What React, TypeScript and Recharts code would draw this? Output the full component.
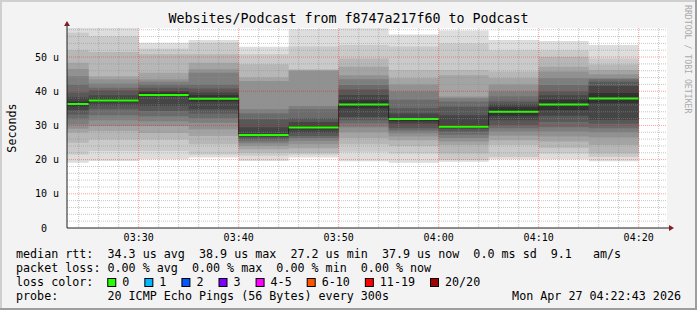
import React from 'react'
import { ComposedChart, Area, XAxis, YAxis, CartesianGrid } from 'recharts'

const W = 697
const H = 310
const MONO = '"DejaVu Sans Mono", monospace'

// graph window and the end of every 300s step
const graphStart = '03:22:50'
const graphEnd = '04:22:50'
const stepEnds = ['03:25', '03:30', '03:35', '03:40', '03:45', '03:50', '03:55', '04:00', '04:05', '04:10', '04:15', '04:20']

// sorted rtt (us) of the 20 pings in each step, ping01 = fastest
const ping01 = [19.1, 19.6, 20.1, 20.6, 19.6, 20.6, 19.5, 19.1, 19.4, 20.1, 20.1, 19.5]
const ping02 = [21.5, 22.5, 22.5, 21.5, 21.1, 21.5, 22.3, 21.8, 19.9, 20.8, 21.8, 20.8]
const ping03 = [24.9, 25.9, 25.9, 24.5, 22.0, 22.0, 24.5, 24.0, 21.8, 24.3, 23.5, 21.8]
const ping04 = [27.9, 28.4, 27.8, 26.9, 23.0, 23.3, 26.3, 25.7, 24.3, 25.7, 25.3, 24.3]
const ping05 = [29.0, 29.8, 29.8, 28.8, 24.0, 24.5, 28.0, 26.8, 25.3, 27.0, 26.8, 26.5]
const ping06 = [30.3, 31.5, 31.2, 30.8, 24.8, 25.5, 29.5, 27.7, 26.3, 28.2, 28.2, 28.0]
const ping07 = [31.8, 33.0, 32.7, 32.0, 25.4, 26.3, 30.6, 28.5, 27.3, 29.2, 29.5, 29.2]
const ping08 = [33.2, 34.7, 34.2, 33.5, 26.0, 26.9, 31.5, 29.2, 28.2, 30.1, 31.1, 30.5]
const ping09 = [34.5, 35.8, 35.7, 34.7, 26.6, 27.8, 32.5, 30.5, 29.0, 31.5, 32.8, 31.6]
const ping10 = [35.6, 36.8, 38.5, 37.0, 27.0, 28.8, 35.0, 31.2, 29.3, 32.8, 34.5, 36.5]
const ping11 = [37.0, 37.8, 39.6, 38.8, 27.6, 29.8, 37.4, 32.1, 29.9, 35.3, 37.5, 39.5]
const ping12 = [38.3, 38.8, 40.1, 39.6, 29.5, 31.0, 38.9, 33.5, 33.0, 36.2, 38.8, 41.5]
const ping13 = [39.6, 40.2, 41.0, 40.8, 31.8, 32.2, 40.5, 35.0, 35.5, 37.0, 39.9, 42.8]
const ping14 = [42.0, 41.0, 42.0, 42.0, 33.5, 34.7, 41.8, 37.5, 37.0, 38.5, 41.8, 43.5]
const ping15 = [44.4, 42.3, 42.8, 45.4, 34.7, 35.7, 43.5, 39.9, 38.0, 39.9, 43.8, 43.8]
const ping16 = [46.5, 43.5, 43.5, 46.4, 43.0, 46.0, 44.7, 42.0, 38.5, 42.0, 45.8, 45.0]
const ping17 = [48.3, 44.4, 45.4, 48.3, 44.0, 46.2, 47.2, 43.8, 44.7, 43.8, 47.2, 46.2]
const ping18 = [52.0, 51.5, 50.8, 50.8, 47.9, 46.4, 49.6, 46.2, 46.2, 45.8, 50.0, 47.8]
const ping19 = [57.1, 56.1, 52.4, 54.2, 50.8, 53.1, 53.5, 53.1, 54.0, 52.0, 52.0, 49.6]
const ping20 = [58.5, 58.5, 54.2, 55.0, 53.0, 58.1, 58.4, 56.6, 57.8, 55.0, 54.7, 53.5]
const medianRtt = [36.3, 37.3, 38.9, 37.8, 27.2, 29.4, 36.1, 31.9, 29.6, 34.0, 36.1, 37.9]

const xTicks = ['03:30', '03:40', '03:50', '04:00', '04:10', '04:20']
const yTicks = [0, 10, 20, 30, 40, 50]
const yMax = 58.5

// smokeping grey per ping pair, outermost first
const smokeColors = ['#dddddd', '#cacaca', '#b7b7b7', '#a4a4a4', '#919191', '#7e7e7e', '#6b6b6b', '#585858', '#454545', '#323232']

const lossLabels = ['0', '1', '2', '3', '4-5', '6-10', '11-19', '20/20']
const lossColors = ['#26ff00', '#00b8ff', '#0059ff', '#7e00ff', '#ff00ff', '#ff5500', '#ff0000', '#a10000']

const rttLine = 'median rtt:  34.3 us avg  38.9 us max  27.2 us min  37.9 us now  0.0 ms sd  9.1   am/s'
const lossLine = 'packet loss: 0.00 % avg  0.00 % max  0.00 % min  0.00 % now'
const probeLine = 'probe:       20 ICMP Echo Pings (56 Bytes) every 300s'
const stamp = 'Mon Apr 27 04:22:43 2026'
const title = 'Websites/Podcast from f8747a217f60 to Podcast'

const toMin = (s: string) => {
    const [h, m, sec] = s.split(':').map(Number)
    return (h - 3) * 60 + m + (sec || 0) / 60
}
const fmtMin = (v: number) => {
    const h = 3 + Math.floor(v / 60)
    const m = Math.round(v % 60)
    return `${String(h).padStart(2, '0')}:${String(m).padStart(2, '0')}`
}

const pings = [ping01, ping02, ping03, ping04, ping05, ping06, ping07, ping08, ping09, ping10,
    ping11, ping12, ping13, ping14, ping15, ping16, ping17, ping18, ping19, ping20]

// stepBefore: each row closes the step that ends at its time
const rows = [graphStart, ...stepEnds].map((s, k) => {
    const col = Math.max(0, k - 1)
    return { t: toMin(s), p: pings.map(a => a[col]), median: medianRtt[col] }
})

const x0 = toMin(graphStart)
const x1 = toMin(graphEnd)
const swidth = yMax / 200

const minorX: number[] = []
const majorX: number[] = []
for (let m = Math.ceil(x0 / 2) * 2; m <= x1; m += 2) (m % 10 === 0 ? majorX : minorX).push(m)
const minorY: number[] = []
const majorY: number[] = []
for (let v = 2; v < yMax; v += 2) (v % 10 === 0 ? majorY : minorY).push(v)

const XTick = (props: any) => (
    <text x={props.x} y={props.y} dy={13} textAnchor="middle" fontFamily={MONO} fontSize={10} fill="#000">
        {fmtMin(props.payload.value)}
    </text>
)
const YTick = (props: any) => {
    const v = props.payload.value
    return (
        <text x={props.x - (v === 0 ? 20 : 8)} y={props.y} dy={3.5} textAnchor="end" fontFamily={MONO} fontSize={10} fill="#000">
            {v === 0 ? '0' : `${v} u`}
        </text>
    )
}

const CH = 7.02
const legendItems = (() => {
    let x = 16 + 13 * CH
    return lossLabels.map((label, i) => {
        const item = { x, label, color: lossColors[i] }
        x += 15 + label.length * CH + 15.06
        return item
    })
})()

export default function App() {
    return (
        <div style={{ position: 'absolute', left: 0, top: 0, width: W, height: H, background: '#f3f3f3' }}>
            <div style={{ position: 'absolute', left: 67, top: 28, width: 600, height: 200, background: '#ffffff' }} />
            <div style={{ position: 'absolute', left: 0, top: 0 }}>
                <ComposedChart width={W} height={H} data={rows} margin={{ top: 28, right: 30, bottom: 0, left: 0 }}>
                    <XAxis
                        type="number"
                        dataKey="t"
                        domain={[x0, x1]}
                        allowDataOverflow
                        ticks={xTicks.map(toMin)}
                        interval={0}
                        height={82}
                        tickSize={0}
                        tickMargin={0}
                        tickLine={false}
                        axisLine={{ stroke: '#1f1f1f' }}
                        tick={XTick}
                    />
                    <YAxis
                        type="number"
                        domain={[0, yMax]}
                        allowDataOverflow
                        ticks={yTicks}
                        interval={0}
                        width={67}
                        tickSize={0}
                        tickMargin={0}
                        tickLine={false}
                        axisLine={{ stroke: '#1f1f1f' }}
                        tick={YTick}
                    />
                    {smokeColors.map((c, i) => (
                        <Area
                            key={i}
                            type="stepBefore"
                            dataKey={(r: any) => [r.p[i], r.p[19 - i]]}
                            fill={c}
                            fillOpacity={1}
                            stroke="none"
                            dot={false}
                            activeDot={false}
                            isAnimationActive={false}
                        />
                    ))}
                    <Area type="stepBefore" dataKey="median" fill="none" stroke="#202020" strokeWidth={1} dot={false} activeDot={false} isAnimationActive={false} />
                    <Area
                        type="stepBefore"
                        dataKey={(r: any) => [r.median - swidth, r.median + swidth]}
                        fill={lossColors[0]}
                        fillOpacity={1}
                        stroke="none"
                        dot={false}
                        activeDot={false}
                        isAnimationActive={false}
                    />
                    <CartesianGrid horizontalValues={minorY} verticalValues={minorX} stroke="#8f8f8f" strokeOpacity={0.5} strokeDasharray="1 1" zIndex={450} />
                    <CartesianGrid horizontalValues={majorY} verticalValues={majorX} stroke="#ff0000" strokeOpacity={0.38} strokeDasharray="1 1" zIndex={460} />
                </ComposedChart>
            </div>
            <svg width={W} height={H} style={{ position: 'absolute', left: 0, top: 0, pointerEvents: 'none' }}>
                <rect x={0} y={0} width={W} height={2} fill="#cfcfcf" />
                <rect x={0} y={0} width={2} height={H} fill="#cfcfcf" />
                <rect x={0} y={H - 2} width={W} height={2} fill="#9e9e9e" />
                <rect x={W - 2} y={0} width={2} height={H} fill="#9e9e9e" />
                <text x={W / 2} y={23} textAnchor="middle" fontFamily={MONO} fontSize={13.3} fill="#000">{title}</text>
                <text x={15.5} y={128} transform="rotate(-90 15.5 128)" textAnchor="middle" fontFamily={MONO} fontSize={11.7} fill="#000">Seconds</text>
                <line x1={67} y1={25} x2={67} y2={28} stroke="#1f1f1f" />
                <polygon points="64,26 70,26 67,21" fill="#7f1f1f" />
                <line x1={667} y1={228} x2={670} y2={228} stroke="#1f1f1f" />
                <polygon points="669,225 669,231 674,228" fill="#7f1f1f" />
                <g fontFamily={MONO} fontSize={11.7} fill="#000" style={{ whiteSpace: 'pre' }}>
                    <text x={16} y={258} xmlSpace="preserve">{rttLine}</text>
                    <text x={16} y={272} xmlSpace="preserve">{lossLine}</text>
                    <text x={16} y={286} xmlSpace="preserve">loss color:</text>
                    {legendItems.map(it => (
                        <g key={it.label}>
                            <rect x={it.x + 0.5} y={278.5} width={8} height={8} fill={it.color} stroke="#000" strokeWidth={1} />
                            <text x={it.x + 15} y={286}>{it.label}</text>
                        </g>
                    ))}
                    <text x={16} y={299.5} xmlSpace="preserve">{probeLine}</text>
                    <text x={681} y={299.5} textAnchor="end">{stamp}</text>
                </g>
                <text x={685} y={5} transform="rotate(90 685 5)" fontFamily={MONO} fontSize={8.2} fill="#aaaaaa">RRDTOOL / TOBI OETIKER</text>
            </svg>
        </div>
    )
}
